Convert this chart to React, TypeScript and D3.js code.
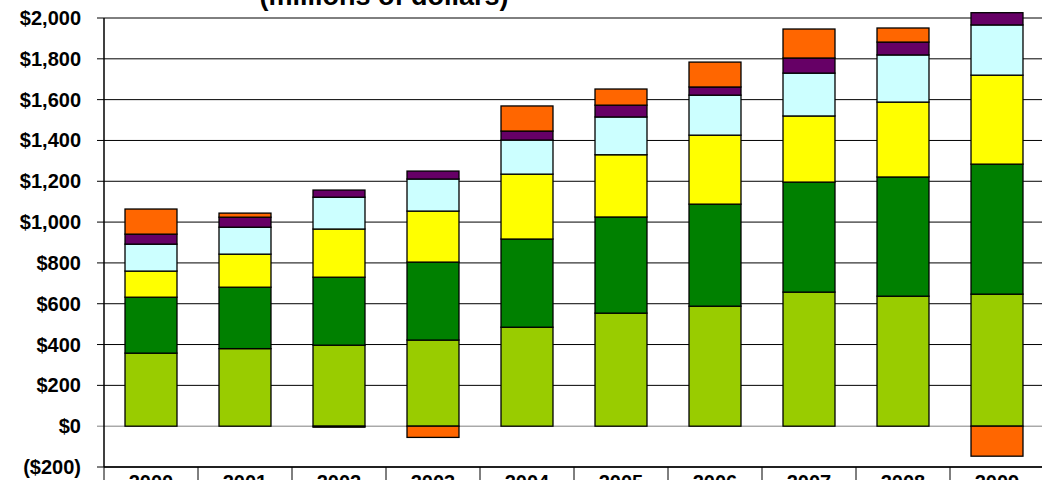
import React from 'react';
import * as d3 from 'd3';

const years = ['2000', '2001', '2002', '2003', '2004', '2005', '2006', '2007', '2008', '2009'];
const seriesKeys = ['s1', 's2', 's3', 's4', 's5', 's6'];
const seriesColors = ['#99CC00', '#008000', '#FFFF00', '#CCFFFF', '#660066', '#FF6600'];
const s1 = [358, 380, 397, 422, 485, 554, 588, 657, 637, 647];
const s2 = [274, 301, 333, 382, 432, 471, 500, 539, 584, 637];
const s3 = [128, 162, 236, 250, 318, 305, 338, 324, 367, 436];
const s4 = [132, 132, 156, 157, 167, 185, 196, 210, 231, 246];
const s5 = [49, 49, 35, 39, 44, 58, 40, 74, 63, 60];
const s6 = [123, 20, -5, -55, 123, 79, 122, 142, 69, -147];
const yTicks = [-200, 0, 200, 400, 600, 800, 1000, 1200, 1400, 1600, 1800, 2000];

const W = 1042;
const H = 480;
const margin = { left: 104, top: 18, right: -2, bottom: 13 };

const fmt = (v: number) => (v < 0 ? `($${d3.format(',')(-v)})` : `$${d3.format(',')(v)}`);

export default function App() {
  const rows = years.map((y, i) => ({ year: y, s1: s1[i], s2: s2[i], s3: s3[i], s4: s4[i], s5: s5[i], s6: s6[i] }));
  const stacked = d3.stack<any>().keys(seriesKeys).offset(d3.stackOffsetDiverging)(rows);

  const x = d3.scaleBand().domain(years).range([margin.left, W - margin.right]).paddingInner(0.447).paddingOuter(0.2235);
  const step = x.step();
  const y = d3.scaleLinear().domain([-200, 2000]).range([H - margin.bottom, margin.top]);
  const font = '"Liberation Sans", Arial, sans-serif';

  return (
    <svg width={W} height={H} style={{ position: 'absolute', left: 0, top: 0, background: '#fff' }} fontFamily={font}>
      <text x={384} y={5} textAnchor="middle" fontSize={27} fontWeight="bold">(millions of dollars)</text>
      {yTicks.map(t => (
        <g key={t}>
          <line x1={margin.left - 7} x2={W} y1={y(t)} y2={y(t)} stroke={t === 0 ? '#808080' : '#000'} strokeWidth={1} />
          <text x={81} y={y(t)} dy="0.35em" textAnchor="end" fontSize={20} fontWeight="bold">{fmt(t)}</text>
        </g>
      ))}
      <defs>
        <clipPath id="plot"><rect x={margin.left} y={12} width={W} height={H} /></clipPath>
      </defs>
      <g clipPath="url(#plot)">
        {stacked.map((layer, li) => layer.map((d, i) => {
          const y0 = Math.max(d[0], d[1]);
          const y1 = Math.min(d[0], d[1]);
          if (y0 === y1) return null;
          return (
            <rect key={`${li}-${i}`} x={x(years[i])} width={x.bandwidth()} y={y(y0)} height={y(y1) - y(y0)}
              fill={seriesColors[li]} stroke="#000" strokeWidth={1.3} />
          );
        }))}
      </g>
      <line x1={margin.left} x2={margin.left} y1={margin.top} y2={H - margin.bottom} stroke="#000" strokeWidth={1.5} />
      <line x1={margin.left} x2={W} y1={y(-200)} y2={y(-200)} stroke="#000" strokeWidth={1.5} />
      {years.map(yr => {
        const cx = (x(yr) as number) + x.bandwidth() / 2;
        return (
          <g key={yr}>
            <line x1={cx - step / 2} x2={cx - step / 2} y1={y(-200)} y2={H} stroke="#000" />
            <text x={cx} y={489} textAnchor="middle" fontSize={20} fontWeight="bold">{yr}</text>
          </g>
        );
      })}
    </svg>
  );
}
